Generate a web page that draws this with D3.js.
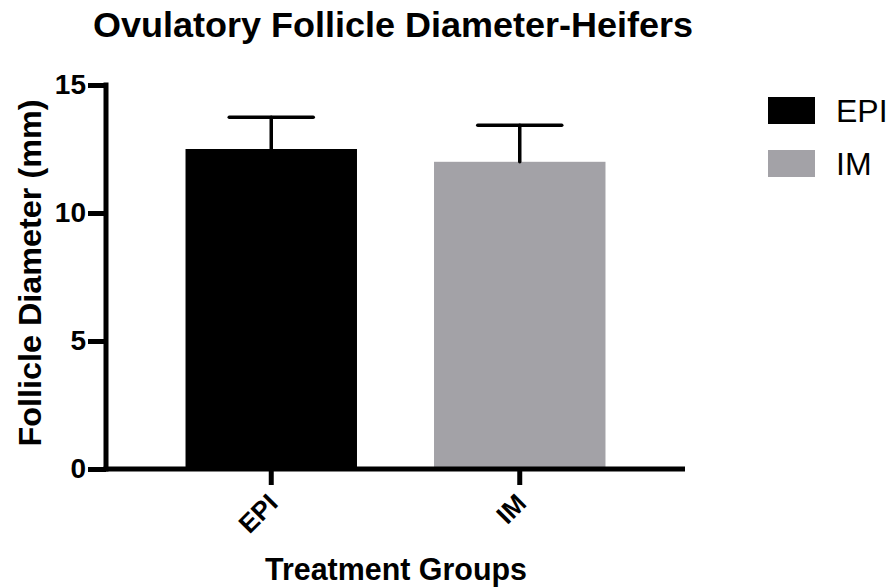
<!DOCTYPE html>
<html>
<head>
<meta charset="utf-8">
<script src="https://cdn.jsdelivr.net/npm/d3@7"></script>
<style>
  html, body { margin: 0; padding: 0; background: #fff; }
  svg { display: block; font-family: "Liberation Sans", Arial, Helvetica, sans-serif; }
</style>
</head>
<body>
<svg id="chart" width="889" height="587"></svg>
<script>
// Treatment groups, mean ovulatory follicle diameter (mm) and SEM
const groups = ["EPI", "IM"];
const means = [12.5, 12.0];
const errors = [1.24, 1.43];
const colors = ["#000000", "#a3a2a7"];
const yTicks = [0, 5, 10, 15];

const FONT = "Liberation Sans, Arial, sans-serif";
const svg = d3.select("#chart");

const x = d3.scaleBand()
  .domain(groups)
  .range([106, 685])
  .paddingInner(0.31)
  .paddingOuter(0.32);

const y = d3.scaleLinear()
  .domain([0, 15])
  .range([469, 85]);

// Bars
svg.append("g").selectAll("rect")
  .data(groups)
  .join("rect")
  .attr("x", d => x(d))
  .attr("y", (d, i) => y(means[i]))
  .attr("width", x.bandwidth())
  .attr("height", (d, i) => y(0) - y(means[i]))
  .attr("fill", (d, i) => colors[i]);

// Error bars (upper whisker with cap)
const eb = svg.append("g").attr("stroke", "#000").attr("stroke-width", 3.5).attr("stroke-linecap", "round");
groups.forEach((g, i) => {
  const cx = x(g) + x.bandwidth() / 2;
  const top = y(means[i] + errors[i]);
  eb.append("line").attr("x1", cx).attr("x2", cx).attr("y1", y(means[i])).attr("y2", top);
  eb.append("line").attr("x1", cx - 42).attr("x2", cx + 42).attr("y1", top).attr("y2", top);
});

// Y axis
const yAxis = svg.append("g")
  .attr("transform", `translate(${x.range()[0]},0)`)
  .call(d3.axisLeft(y).tickValues(yTicks).tickSize(18).tickPadding(2).tickSizeOuter(0));
yAxis.select(".domain").attr("stroke-width", 5).attr("d", `M0,${y(0) + 2.5}V${y(15) - 2.5}`);
yAxis.selectAll(".tick line").attr("stroke-width", 5);
yAxis.selectAll(".tick text")
  .attr("font-size", 28).attr("font-weight", "bold").attr("fill", "#000")
  .attr("font-family", FONT);

// X axis
const xAxis = svg.append("g")
  .attr("transform", `translate(0,${y(0)})`)
  .call(d3.axisBottom(x).tickSize(16).tickSizeOuter(0).tickFormat(""));
xAxis.select(".domain").attr("stroke-width", 5).attr("d", `M${x.range()[0] - 2.5},0H${x.range()[1]}`);
xAxis.selectAll(".tick line").attr("stroke-width", 5);
xAxis.selectAll(".tick").append("text")
  .text(d => d)
  .attr("fill", "#000")
  .attr("font-size", 26)
  .attr("font-weight", "bold")
  .attr("font-family", FONT)
  .attr("text-anchor", "end")
  .attr("transform", "translate(8,36) rotate(-45)");

// Titles
svg.append("text")
  .attr("x", 393).attr("y", 37)
  .attr("text-anchor", "middle")
  .attr("font-size", 35).attr("font-weight", "bold")
  .attr("textLength", 600).attr("lengthAdjust", "spacingAndGlyphs")
  .text("Ovulatory Follicle Diameter-Heifers");

svg.append("text")
  .attr("x", 396).attr("y", 580)
  .attr("text-anchor", "middle")
  .attr("font-size", 32).attr("font-weight", "bold")
  .attr("textLength", 262).attr("lengthAdjust", "spacingAndGlyphs")
  .text("Treatment Groups");

svg.append("text")
  .attr("transform", "translate(41,273) rotate(-90)")
  .attr("text-anchor", "middle")
  .attr("font-size", 32).attr("font-weight", "bold")
  .attr("textLength", 347).attr("lengthAdjust", "spacingAndGlyphs")
  .text("Follicle Diameter (mm)");

// Legend
const legend = svg.append("g");
groups.forEach((g, i) => {
  const ly = 97 + i * 53;
  legend.append("rect").attr("x", 768).attr("y", ly).attr("width", 47).attr("height", 27).attr("fill", colors[i]);
  legend.append("text").attr("x", 836).attr("y", ly + 25)
    .attr("font-size", 32).text(g);
});
</script>
</body>
</html>
